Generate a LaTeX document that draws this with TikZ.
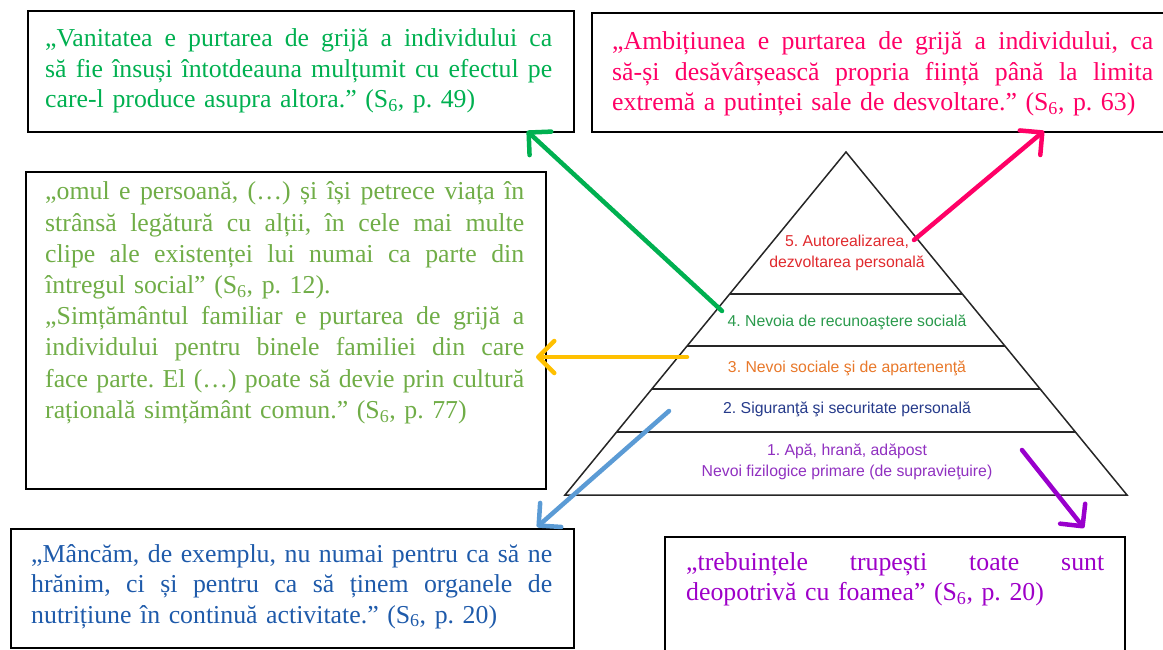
\documentclass[tikz,border=0pt]{standalone}
\usepackage{fontspec}
\setmainfont{Liberation Serif}
\newfontfamily\arialf{Liberation Sans}
\usetikzlibrary{arrows.meta,calc}
\definecolor{qgreen}{HTML}{00B050}
\definecolor{qpink}{HTML}{FF0066}
\definecolor{qlgreen}{HTML}{70AD47}
\definecolor{qblue}{HTML}{1E5AAA}
\definecolor{qpurple}{HTML}{9E00C8}
\definecolor{agreen}{HTML}{00B050}
\definecolor{apink}{HTML}{FF0066}
\definecolor{aorange}{HTML}{FFC000}
\definecolor{ablue}{HTML}{5B9BD5}
\definecolor{apurple}{HTML}{9900CC}
\definecolor{pred}{HTML}{E02A2E}
\definecolor{pgreen}{HTML}{2A9A4C}
\definecolor{porange}{HTML}{E8782A}
\definecolor{pnavy}{HTML}{253A8A}
\definecolor{ppurple}{HTML}{9030C0}
\def\qw{500pt}
\newcommand{\js}[1]{\leavevmode\hbox to \qw{\spaceskip=0pt\xspaceskip=0pt #1}}
\newcommand{\Ssix}{S\textsubscript{6}}
\frenchspacing
\begin{document}
\frenchspacing
\begin{tikzpicture}[x=1pt,y=-1pt,
  qbox/.style={draw=black, line width=1.8pt, inner sep=0pt, anchor=north west},
  quote/.style={anchor=base west, inner sep=0pt, align=left,
     font=\fontsize{25.8}{30.5}\selectfont\frenchspacing},
  plabel/.style={inner sep=0pt, align=center, font=\arialf\fontsize{15.8}{21}\selectfont\frenchspacing},
  arr/.style={line width=4.5pt, line cap=round,
     -{Straight Barb[length=16pt,width=32pt,line cap=round,line join=round]}},
  pline/.style={draw=black!85, line width=1.5pt}
]
\useasboundingbox (0,0) rectangle (1163,650);

% quote boxes
\node[qbox, minimum width=546pt, minimum height=121pt] (b1) at (27,10) {};
\node[qbox, minimum width=590pt, minimum height=119pt] (b2) at (591,12) {};
\node[qbox, minimum width=520pt, minimum height=317pt] (b3) at (25,171) {};
\node[qbox, minimum width=563pt, minimum height=119pt] (b4) at (10,528) {};
\node[qbox, minimum width=460pt, minimum height=130pt] (b5) at (664,536) {};

\node[quote, text width=507pt, text=qgreen] (t1) at (45,47) {\def\qw{507pt}%
\js{„Vanitatea e purtarea de grijă a individului ca}\\
\js{să fie însuși întotdeauna mulțumit cu efectul pe}\\
care-l produce asupra altora.” (\Ssix, p. 49)};

\node[quote, text width=541pt, text=qpink] (t2) at (612,50) {\def\qw{541pt}%
\js{„Ambițiunea e purtarea de grijă a individului, ca}\\
\js{să-și desăvârșească propria ființă până la limita}\\
extremă a putinței sale de desvoltare.” (\Ssix, p. 63)};

\node[quote, text width=479pt, text=qlgreen, font=\fontsize{25.8}{31.2}\selectfont\frenchspacing] (t3) at (45,200) {\def\qw{479pt}%
\js{„omul e persoană, (…) și își petrece viața în}\\
\js{strânsă legătură cu alții, în cele mai multe}\\
\js{clipe ale existenței lui numai ca parte din}\\
întregul social” (\Ssix, p. 12).\\
\js{„Simțământul familiar e purtarea de grijă a}\\
\js{individului pentru binele familiei din care}\\
\js{face parte. El (…) poate să devie prin cultură}\\
rațională simțământ comun.” (\Ssix, p. 77)};

\node[quote, text width=521pt, text=qblue] (t4) at (31,562) {\def\qw{521pt}%
\js{„Mâncăm, de exemplu, nu numai pentru ca să ne}\\
\js{hrănim, ci și pentru ca să ținem organele de}\\
nutrițiune în continuă activitate.” (\Ssix, p. 20)};

\node[quote, text width=418pt, text=qpurple] (t5) at (686,570) {\def\qw{418pt}%
\js{„trebuințele trupești toate sunt}\\
deopotrivă cu foamea” (\Ssix, p. 20)};

% pyramid
\coordinate (apex) at (846,152);
\coordinate (bl) at (565,495);
\coordinate (br) at (1127,495);
\draw[pline, line join=miter] (apex) -- (bl) -- (br) -- cycle;
\foreach \n/\f in {4/0.414, 3/0.5656, 2/0.691, 1/0.8163}{
  \coordinate (l\n) at ($(apex)!\f!(bl)$);
  \coordinate (r\n) at ($(apex)!\f!(br)$);
  \draw[pline] (l\n) -- (r\n);
}
\node[plabel, text=pred] (p5) at (847,253) {5. Autorealizarea,\\dezvoltarea personală};
\node[plabel, text=pgreen] (p4) at (847,322) {4. Nevoia de recunoaştere socială};
\node[plabel, text=porange] (p3) at (847,368) {3. Nevoi sociale şi de apartenenţă};
\node[plabel, text=pnavy] (p2) at (847,409) {2. Siguranţă şi securitate personală};
\node[plabel, text=ppurple] (p1) at (847,462) {1. Apă, hrană, adăpost\\Nevoi fizilogice primare (de supravieţuire)};

% arrows
\coordinate (gs) at (722,311); \coordinate (ge) at (527,131);
\coordinate (rs) at (914,240); \coordinate (re) at (1044,131);
\coordinate (os) at (687,357); \coordinate (oe) at (536,357);
\coordinate (bs) at (669,411); \coordinate (be) at (537,527);
\coordinate (us) at (1022,450); \coordinate (ue) at (1084,528);
\draw[arr, agreen] (gs) -- (ge);
\draw[arr, apink] (rs) -- (re);
\draw[arr, aorange] (os) -- (oe);
\draw[arr, ablue] (bs) -- (be);
\draw[arr, apurple] (us) -- (ue);
\end{tikzpicture}
\end{document}
